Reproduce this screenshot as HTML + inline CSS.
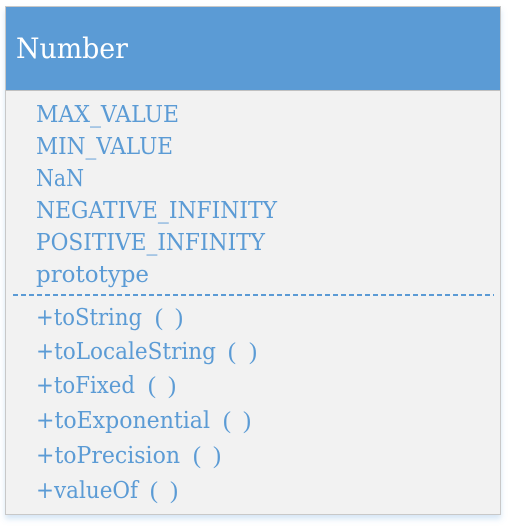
<!DOCTYPE html>
<html><head><meta charset="utf-8"><style>
html,body{margin:0;padding:0;background:#fff;}
svg{display:block}
text{font-family:"DejaVu Serif","Noto Serif CJK SC",serif;}
.p{font-family:"Liberation Serif",serif;}
</style></head><body>
<svg width="508" height="530" viewBox="0 0 508 530" xmlns="http://www.w3.org/2000/svg">
<defs><filter id="sh" x="-5%" y="-5%" width="110%" height="110%"><feDropShadow dx="0" dy="4" stdDeviation="3" flood-color="#5b9bd5" flood-opacity="0.25"/></filter></defs>
<rect x="5.5" y="6.5" width="495" height="508" fill="#f2f2f2" stroke="#c8c8c8" filter="url(#sh)"/>
<rect x="6" y="7" width="494" height="83" fill="#5b9bd5"/>
<line x1="6" y1="90.5" x2="500" y2="90.5" stroke="#c0c0c0"/>
<text x="16" y="58" font-size="28" fill="#fff" textLength="112" lengthAdjust="spacingAndGlyphs">Number</text>
<g font-size="23.5" fill="#5b9bd5">
<text x="36" y="122" textLength="143" lengthAdjust="spacingAndGlyphs">MAX_VALUE</text>
<text x="36" y="154" textLength="137" lengthAdjust="spacingAndGlyphs">MIN_VALUE</text>
<text x="36" y="186" textLength="48" lengthAdjust="spacingAndGlyphs">NaN</text>
<text x="36" y="218" textLength="241" lengthAdjust="spacingAndGlyphs">NEGATIVE_INFINITY</text>
<text x="36" y="250" textLength="229" lengthAdjust="spacingAndGlyphs">POSITIVE_INFINITY</text>
<text x="36" y="282" textLength="113" lengthAdjust="spacingAndGlyphs">prototype</text>
</g>
<line x1="13" y1="295" x2="494" y2="295" stroke="#5b9bd5" stroke-width="2" stroke-dasharray="5,3"/>
<g font-size="23.5" fill="#5b9bd5">
<text x="36" y="325" textLength="106" lengthAdjust="spacingAndGlyphs">+toString</text>
<text class="p" y="325" font-size="24"><tspan x="155">(</tspan><tspan x="175">)</tspan></text>
<text x="36" y="359" textLength="180" lengthAdjust="spacingAndGlyphs">+toLocaleString</text>
<text class="p" y="359" font-size="24"><tspan x="228">(</tspan><tspan x="249">)</tspan></text>
<text x="36" y="393" textLength="99" lengthAdjust="spacingAndGlyphs">+toFixed</text>
<text class="p" y="393" font-size="24"><tspan x="148">(</tspan><tspan x="168">)</tspan></text>
<text x="36" y="428" textLength="174" lengthAdjust="spacingAndGlyphs">+toExponential</text>
<text class="p" y="428" font-size="24"><tspan x="223">(</tspan><tspan x="243">)</tspan></text>
<text x="36" y="463" textLength="144" lengthAdjust="spacingAndGlyphs">+toPrecision</text>
<text class="p" y="463" font-size="24"><tspan x="193">(</tspan><tspan x="213">)</tspan></text>
<text x="36" y="498" textLength="102" lengthAdjust="spacingAndGlyphs">+valueOf</text>
<text class="p" y="498" font-size="24"><tspan x="150">(</tspan><tspan x="170">)</tspan></text>
</g>
</svg>
</body></html>
